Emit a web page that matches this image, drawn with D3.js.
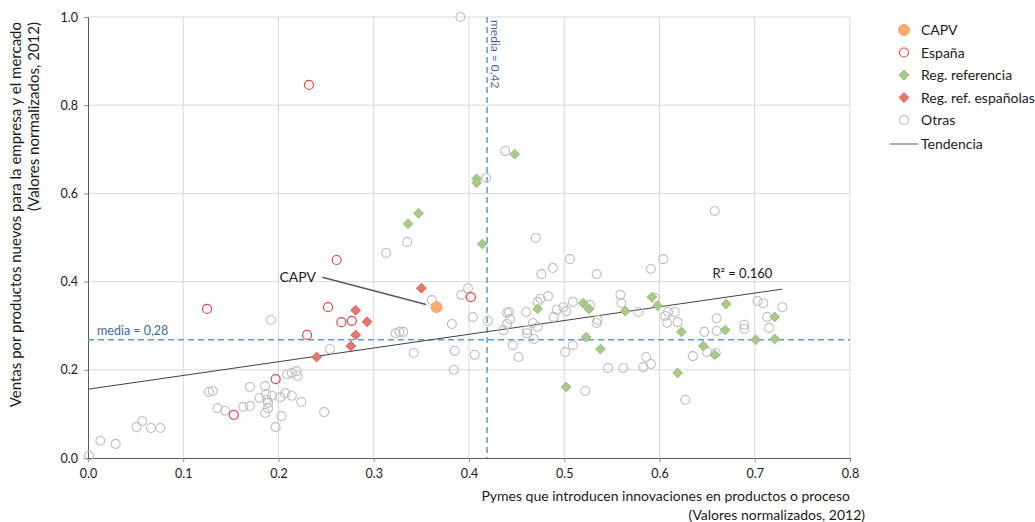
<!DOCTYPE html>
<html>
<head>
<meta charset="utf-8">
<script src="https://cdn.jsdelivr.net/npm/d3@7"></script>
<style>
  body { margin: 0; background: #fff; }
  svg text { font-family: Lato, "Open Sans", sans-serif; fill: #1a1a1a; }
</style>
</head>
<body>
<div id="chart"></div>
<script>
// Data: [x, y]
const capv = [[0.366, 0.342]];
const espana = [
    [0.232, 0.846], [0.125, 0.338], [0.261, 0.449], [0.252, 0.342], [0.266, 0.308],
    [0.277, 0.311], [0.230, 0.279], [0.402, 0.365], [0.197, 0.179], [0.153, 0.098]
];
const regRefEsp = [
    [0.350, 0.385], [0.281, 0.335], [0.293, 0.309], [0.281, 0.279], [0.276, 0.254], [0.240, 0.229]
];
const regRef = [
    [0.347, 0.555], [0.336, 0.531], [0.414, 0.485], [0.448, 0.689], [0.408, 0.633], [0.408, 0.624],
    [0.472, 0.338], [0.520, 0.351], [0.526, 0.338], [0.564, 0.333], [0.523, 0.274], [0.538, 0.247],
    [0.592, 0.365], [0.598, 0.345], [0.502, 0.161], [0.670, 0.349], [0.623, 0.286], [0.669, 0.290],
    [0.721, 0.320], [0.646, 0.254], [0.658, 0.234], [0.701, 0.268], [0.721, 0.270], [0.619, 0.193]
];
const otras = [
    [0.391, 1.000], [0.438, 0.696], [0.418, 0.635], [0.313, 0.465], [0.335, 0.490], [0.470, 0.499],
    [0.506, 0.451], [0.476, 0.417], [0.488, 0.431], [0.534, 0.417], [0.591, 0.429], [0.604, 0.451],
    [0.658, 0.560], [0.192, 0.313], [0.361, 0.358], [0.399, 0.385], [0.392, 0.370], [0.404, 0.320],
    [0.382, 0.304], [0.323, 0.283], [0.327, 0.286], [0.331, 0.286], [0.342, 0.238], [0.385, 0.243],
    [0.406, 0.234], [0.384, 0.200], [0.420, 0.311], [0.440, 0.329], [0.442, 0.331], [0.443, 0.315],
    [0.440, 0.304], [0.436, 0.290], [0.460, 0.331], [0.472, 0.354], [0.475, 0.361], [0.483, 0.367],
    [0.467, 0.306], [0.472, 0.297], [0.461, 0.290], [0.461, 0.283], [0.468, 0.270], [0.446, 0.256],
    [0.452, 0.229], [0.492, 0.336], [0.499, 0.342], [0.502, 0.333], [0.509, 0.354], [0.489, 0.320],
    [0.501, 0.240], [0.509, 0.256], [0.527, 0.347], [0.535, 0.313], [0.534, 0.306], [0.559, 0.370],
    [0.560, 0.351], [0.578, 0.331], [0.595, 0.363], [0.606, 0.322], [0.609, 0.331], [0.616, 0.331],
    [0.608, 0.306], [0.619, 0.308], [0.546, 0.204], [0.562, 0.204], [0.522, 0.152], [0.586, 0.229],
    [0.591, 0.213], [0.583, 0.206], [0.635, 0.231], [0.650, 0.240], [0.647, 0.286], [0.660, 0.317],
    [0.660, 0.288], [0.689, 0.302], [0.689, 0.293], [0.703, 0.356], [0.709, 0.351], [0.729, 0.342],
    [0.713, 0.320], [0.715, 0.295], [0.627, 0.132], [0.659, 0.238], [0.254, 0.247], [0.209, 0.190],
    [0.214, 0.193], [0.219, 0.197], [0.220, 0.186], [0.127, 0.150], [0.131, 0.152], [0.170, 0.161],
    [0.186, 0.163], [0.136, 0.113], [0.144, 0.107], [0.163, 0.116], [0.170, 0.118], [0.180, 0.136],
    [0.187, 0.145], [0.193, 0.141], [0.202, 0.138], [0.207, 0.147], [0.214, 0.141], [0.188, 0.132],
    [0.189, 0.125], [0.189, 0.113], [0.186, 0.102], [0.203, 0.095], [0.224, 0.127], [0.197, 0.070],
    [0.248, 0.104], [0.051, 0.070], [0.057, 0.084], [0.066, 0.068], [0.076, 0.068], [0.013, 0.039],
    [0.029, 0.032], [0.001, 0.005]
];

// Trend line ends and medians
const trend = [[0.0, 0.156], [0.729, 0.383]];
const r2Label = "R² = 0.160";
const medianX = 0.419, medianXLabel = "media = 0,42";
const medianY = 0.268, medianYLabel = "media = 0,28";

const xTicks = [0, 0.1, 0.2, 0.3, 0.4, 0.5, 0.6, 0.7, 0.8];
const yTicks = [0, 0.2, 0.4, 0.6, 0.8, 1.0];

const legendItems = [
    {label: "CAPV", type: "capv"},
    {label: "España", type: "espana"},
    {label: "Reg. referencia", type: "regRef"},
    {label: "Reg. ref. españolas", type: "regRefEsp"},
    {label: "Otras", type: "otras"},
    {label: "Tendencia", type: "trend"}
];

// Dimensions
const W = 1035, H = 522;
const margin = {top: 17, right: 185, bottom: 64, left: 88};
const width = W - margin.left - margin.right;
const height = H - margin.top - margin.bottom;

const svg = d3.select("#chart").append("svg")
    .attr("width", W)
    .attr("height", H);

const g = svg.append("g")
    .attr("transform", `translate(${margin.left},${margin.top})`);

const x = d3.scaleLinear().domain([0, 0.8]).range([0, width]);
const y = d3.scaleLinear().domain([0, 1]).range([height, 0]);

// Grid
g.append("g")
    .selectAll("line")
    .data(xTicks.slice(1))
    .join("line")
    .attr("x1", d => x(d)).attr("x2", d => x(d))
    .attr("y1", 0).attr("y2", height)
    .attr("stroke", "#d9d9d9");

g.append("g")
    .selectAll("line")
    .data(yTicks.slice(1))
    .join("line")
    .attr("x1", 0).attr("x2", width)
    .attr("y1", d => y(d)).attr("y2", d => y(d))
    .attr("stroke", "#d9d9d9");

// Axes
const xAxis = g.append("g")
    .attr("transform", `translate(0,${height})`)
    .call(d3.axisBottom(x).tickValues(xTicks).tickFormat(d3.format(".1f")).tickSize(4).tickPadding(7));
const yAxis = g.append("g")
    .call(d3.axisLeft(y).tickValues(yTicks).tickFormat(d3.format(".1f")).tickSize(4).tickPadding(6));

[xAxis, yAxis].forEach(a => {
    a.select(".domain").attr("stroke", "#595959");
    a.selectAll(".tick line").attr("stroke", "#8c8c8c");
    a.selectAll(".tick text").style("font-size", "12.5px").attr("fill", "#1a1a1a");
});

// Median lines
const blue = "#5b9bd5";
g.append("line")
    .attr("x1", x(medianX)).attr("x2", x(medianX))
    .attr("y1", 0).attr("y2", height)
    .attr("stroke", blue).attr("stroke-width", 1.5)
    .attr("stroke-dasharray", "6,4");
g.append("line")
    .attr("x1", 0).attr("x2", width)
    .attr("y1", y(medianY)).attr("y2", y(medianY))
    .attr("stroke", blue).attr("stroke-width", 1.5)
    .attr("stroke-dasharray", "6,4");

g.append("text")
    .attr("transform", `translate(${x(medianX) + 4},${3}) rotate(90)`)
    .style("font-size", "12px")
    .style("fill", "#44689b")
    .text(medianXLabel);
g.append("text")
    .attr("x", 9).attr("y", y(medianY) - 5)
    .style("font-size", "12.5px")
    .style("fill", "#44689b")
    .text(medianYLabel);

// Trend line
g.append("line")
    .attr("x1", x(trend[0][0])).attr("y1", y(trend[0][1]))
    .attr("x2", x(trend[1][0])).attr("y2", y(trend[1][1]))
    .attr("stroke", "#404040").attr("stroke-width", 1);

// Markers
const diamond = d3.symbol().type(d3.symbolDiamond2).size(62);

function drawMarker(sel, type) {
    if (type === "otras") {
        sel.append("circle").attr("r", 4.5)
            .attr("fill", "none").attr("stroke", "#bfbfbf").attr("stroke-width", 1.1);
    } else if (type === "espana") {
        sel.append("circle").attr("r", 4.5)
            .attr("fill", "none").attr("stroke", "#e0474c").attr("stroke-width", 1.2);
    } else if (type === "regRef") {
        sel.append("path").attr("d", diamond)
            .attr("fill", "#a9c98b").attr("stroke", "#8db56c").attr("stroke-width", 0.8);
    } else if (type === "regRefEsp") {
        sel.append("path").attr("d", diamond)
            .attr("fill", "#e2786c").attr("stroke", "#d9534f").attr("stroke-width", 0.8);
    } else if (type === "capv") {
        sel.append("circle").attr("r", 5.5)
            .attr("fill", "#f6ae72").attr("stroke", "#f39c55").attr("stroke-width", 0.8);
    }
}

const series = [
    {data: otras, type: "otras"},
    {data: espana, type: "espana"},
    {data: regRef, type: "regRef"},
    {data: regRefEsp, type: "regRefEsp"},
    {data: capv, type: "capv"}
];

series.forEach(s => {
    g.append("g")
        .selectAll("g")
        .data(s.data)
        .join("g")
        .attr("transform", d => `translate(${x(d[0])},${y(d[1])})`)
        .each(function() { drawMarker(d3.select(this), s.type); });
});

// CAPV annotation
g.append("line")
    .attr("x1", x(0.246)).attr("y1", y(0.41))
    .attr("x2", x(0.355)).attr("y2", y(0.348))
    .attr("stroke", "#595959").attr("stroke-width", 1.5);
g.append("text")
    .attr("x", x(0.201)).attr("y", y(0.400))
    .style("font-size", "14px")
    .text("CAPV");

// R² label
g.append("text")
    .attr("x", x(0.687)).attr("y", y(0.408))
    .attr("text-anchor", "middle")
    .style("font-size", "13px")
    .text(r2Label);

// Axis titles
svg.append("text")
    .attr("x", margin.left + width).attr("y", 501)
    .attr("text-anchor", "end")
    .style("font-size", "14px")
    .text("Pymes que introducen innovaciones en productos o proceso");
svg.append("text")
    .attr("x", 865).attr("y", 520)
    .attr("text-anchor", "end")
    .style("font-size", "14px")
    .text("(Valores normalizados, 2012)");

svg.append("text")
    .attr("transform", "translate(21,22) rotate(-90)")
    .attr("text-anchor", "end")
    .style("font-size", "15px")
    .text("Ventas por productos nuevos para la empresa y el mercado");
svg.append("text")
    .attr("transform", "translate(39,22) rotate(-90)")
    .attr("text-anchor", "end")
    .style("font-size", "15px")
    .text("(Valores normalizados, 2012)");

// Legend
const legend = svg.append("g").attr("transform", "translate(904,30)");
const rows = legend.selectAll("g")
    .data(legendItems)
    .join("g")
    .attr("transform", (d, i) => `translate(0,${i < 5 ? i * 22.5 : 114})`);

rows.each(function(d) {
    const row = d3.select(this);
    if (d.type === "trend") {
        row.append("line").attr("x1", -14).attr("x2", 14)
            .attr("stroke", "#595959").attr("stroke-width", 1);
    } else {
        drawMarker(row, d.type);
    }
    row.append("text")
        .attr("x", 17).attr("y", 5)
        .style("font-size", "14px")
        .text(d.label);
});
</script>
</body>
</html>
